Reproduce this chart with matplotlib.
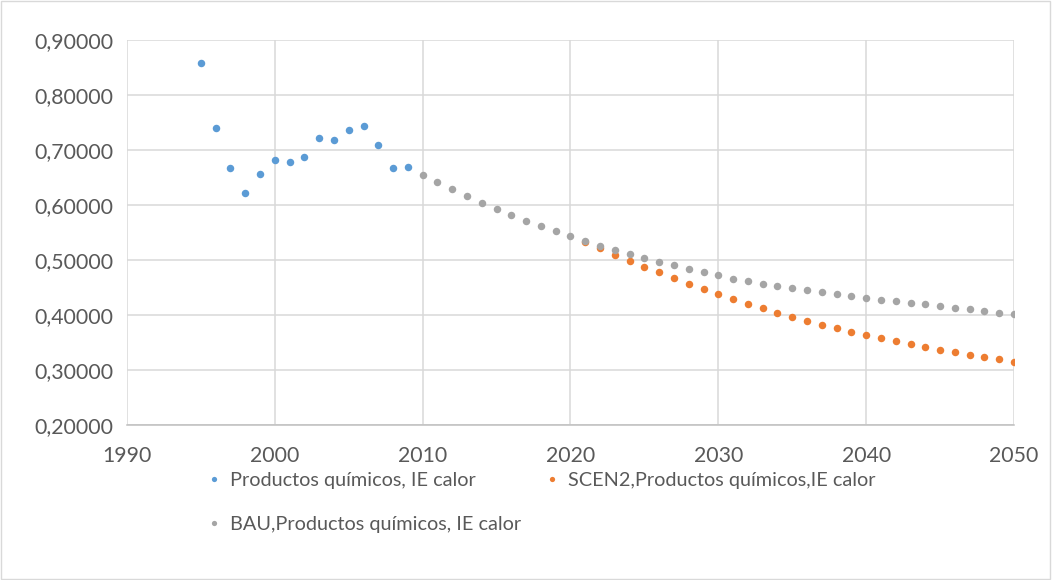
import matplotlib.pyplot as plt
from matplotlib.ticker import FuncFormatter, MultipleLocator
from matplotlib.patches import Rectangle

plt.rcParams['font.family'] = ['Lato', 'DejaVu Sans']

# historical series
years_hist = list(range(1995, 2010))
ie_hist = [0.8576, 0.7394, 0.6679, 0.6212, 0.6564, 0.6818, 0.6776, 0.6867,
           0.7212, 0.7176, 0.7358, 0.7430, 0.7085, 0.6679, 0.6697]

# SCEN2 projection
years_scen2 = list(range(2021, 2051))
ie_scen2 = [0.532, 0.521, 0.510, 0.4988, 0.4879, 0.4776, 0.4673, 0.4570, 0.4473,
            0.4380, 0.4291, 0.4206, 0.4121, 0.4042, 0.3964, 0.3891, 0.3824, 0.3758,
            0.3697, 0.3630, 0.3576, 0.3521, 0.3467, 0.3418, 0.3370, 0.3321, 0.3273,
            0.3230, 0.3194, 0.3152]

# BAU projection
years_bau = list(range(2010, 2051))
ie_bau = [0.6551, 0.6418, 0.6285, 0.6158, 0.6036, 0.5927, 0.5818, 0.5715, 0.5612,
          0.5521, 0.5430, 0.5339, 0.5261, 0.5182, 0.5109, 0.5036, 0.4970, 0.4903,
          0.4842, 0.4776, 0.4724, 0.4661, 0.4618, 0.4570, 0.4533, 0.4491, 0.4455,
          0.4412, 0.4382, 0.4345, 0.4309, 0.4279, 0.4248, 0.4218, 0.4194, 0.4164,
          0.4133, 0.4103, 0.4073, 0.4042, 0.4012]

labels = ['Productos químicos, IE calor',
          'SCEN2,Productos químicos,IE calor',
          'BAU,Productos químicos, IE calor']
colors = ['#5b9bd5', '#ed7d31', '#a5a5a5']

fig = plt.figure(figsize=(10.52, 5.8), dpi=100)
ax = fig.add_axes([0.1207, 0.2672, 0.8432, 0.6638])

ms = 5.4
h0, = ax.plot(years_hist, ie_hist, 'o', color=colors[0], ms=ms, mew=0, label=labels[0])
h1, = ax.plot(years_scen2, ie_scen2, 'o', color=colors[1], ms=ms, mew=0, label=labels[1])
h2, = ax.plot(years_bau, ie_bau, 'o', color=colors[2], ms=ms, mew=0, label=labels[2])

ax.set_xlim(1990, 2050)
ax.set_ylim(0.2, 0.9)
ax.xaxis.set_major_locator(MultipleLocator(10))
ax.yaxis.set_major_locator(MultipleLocator(0.1))
ax.yaxis.set_major_formatter(FuncFormatter(lambda v, p: ('%.5f' % v).replace('.', ',')))

ax.grid(True, color='#d9d9d9', lw=1.1)
ax.set_axisbelow(True)
for s in ['top', 'right', 'left']:
    ax.spines[s].set_visible(False)
ax.spines['bottom'].set_color('#bfbfbf')
ax.spines['bottom'].set_linewidth(1.1)
ax.tick_params(axis='both', length=0, labelsize=15.3, colors='#595959')
ax.tick_params(axis='x', pad=15)
ax.tick_params(axis='y', pad=10)

# row-wise order: matplotlib fills legend columns first
leg = fig.legend([h0, h2, h1], [labels[0], labels[2], labels[1]],
                 loc='upper left', bbox_to_anchor=(0.181, 0.217), ncol=2,
                 frameon=False, fontsize=14.3, handlelength=0.6, handletextpad=0.5,
                 columnspacing=1.25, labelspacing=1.35, markerscale=0.7)
for t in leg.get_texts():
    t.set_color('#595959')

fig.patches.append(Rectangle((0.001, 0.001), 0.997, 0.997, transform=fig.transFigure,
                             fill=False, edgecolor='#d9d9d9', lw=1))

fig.savefig('out.png', dpi=100)
